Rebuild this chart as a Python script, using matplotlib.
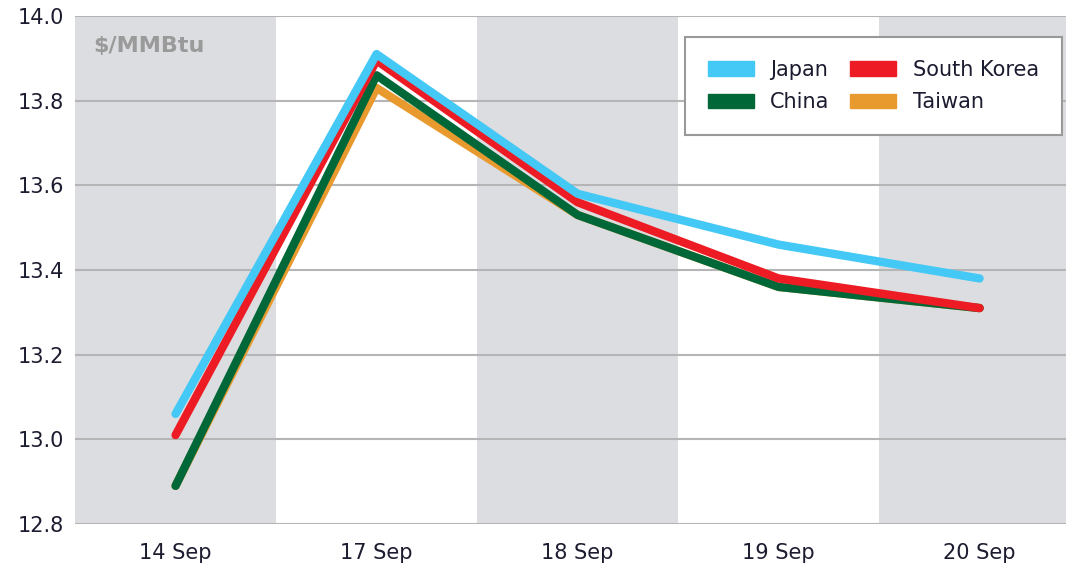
import numpy as np
import matplotlib.pyplot as plt
from matplotlib.patches import Patch

plt.rcParams["font.family"] = ["DejaVu Sans"]

# data
dates = ["14 Sep", "17 Sep", "18 Sep", "19 Sep", "20 Sep"]
japan = [13.06, 13.91, 13.58, 13.46, 13.38]
south_korea = [13.01, 13.895, 13.56, 13.38, 13.31]
china = [12.89, 13.86, 13.53, 13.36, 13.31]
taiwan = [12.89, 13.83, 13.53, 13.36, 13.31]

fig = plt.figure(figsize=(10.66, 5.65), dpi=100)
ax = fig.add_axes([0.0704, 0.0726, 0.9296, 0.8991])

x = np.arange(len(dates))

# alternating background bands
for i in x:
    if i % 2 == 0:
        ax.axvspan(i - 0.5, i + 0.5, color="#dcdde0", lw=0, zorder=0)

ax.set_ylim(12.8, 14.0)
ax.set_xlim(-0.5, 4.43)
ax.set_yticks(np.arange(12.8, 14.01, 0.2))
ax.set_yticklabels([f"{v:.1f}" for v in np.arange(12.8, 14.01, 0.2)])
ax.grid(axis="y", color="#b5b5b5", lw=1.5, zorder=1)
ax.grid(axis="x", visible=False)
ax.set_axisbelow(True)

c_japan = "#44c8f5"
c_korea = "#ed1c24"
c_china = "#006838"
c_taiwan = "#e89a2f"

ax.plot(x, taiwan, color=c_taiwan, lw=6, solid_capstyle="round", zorder=3)
ax.plot(x, china, color=c_china, lw=6, solid_capstyle="round", zorder=4)
ax.plot(x, south_korea, color=c_korea, lw=6, solid_capstyle="round", zorder=5)
ax.plot(x, japan, color=c_japan, lw=6, solid_capstyle="round", zorder=6)

ax.set_xticks(x)
ax.set_xticklabels(dates)
ax.tick_params(axis="both", length=0, labelsize=15, labelcolor="#1c1c30")
ax.tick_params(axis="x", pad=14)
ax.tick_params(axis="y", pad=8)
for s in ax.spines.values():
    s.set_visible(False)

ax.text(0.018, 0.96, "\\$/MMBtu", transform=ax.transAxes, fontsize=16,
        fontweight="bold", color="#9a9a9a", va="top", ha="left")

handles = [Patch(color=c_japan, label="Japan"),
           Patch(color=c_china, label="China"),
           Patch(color=c_korea, label="South Korea"),
           Patch(color=c_taiwan, label="Taiwan")]
leg = ax.legend(handles=handles, ncol=2, loc="upper right",
                bbox_to_anchor=(0.996, 0.959), borderaxespad=0, fontsize=15,
                frameon=True, fancybox=False, edgecolor="#999999", framealpha=1,
                handlelength=2.2, handleheight=0.7, columnspacing=1.0,
                labelspacing=0.6, borderpad=1.1, handletextpad=0.8)
leg.get_frame().set_linewidth(1.5)
for t in leg.get_texts():
    t.set_color("#1c1c30")

fig.savefig("out.png", dpi=100)
